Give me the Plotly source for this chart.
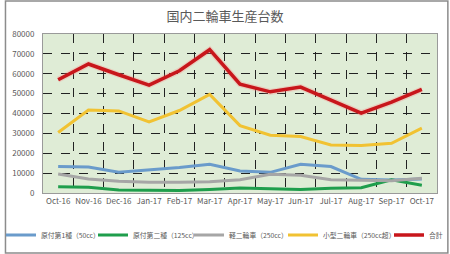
import plotly.graph_objects as go

months = ["Oct-16", "Nov-16", "Dec-16", "Jan-17", "Feb-17", "Mar-17", "Apr-17",
          "May-17", "Jun-17", "Jul-17", "Aug-17", "Sep-17", "Oct-17"]

gentsuki1 = [13300, 13100, 10400, 11600, 12800, 14500, 11100, 10400, 14500, 13300, 6900, 6600, 7100]
gentsuki2 = [3200, 2900, 1500, 1500, 1200, 1800, 2500, 2200, 1800, 2400, 2700, 6600, 3900]
kei = [9600, 7100, 5900, 5400, 5400, 5700, 6700, 9400, 8900, 6700, 6400, 6200, 7400]
kogata = [30400, 41700, 41300, 35800, 41500, 49600, 33900, 29100, 28400, 24200, 23900, 25000, 32600]
total = [57000, 64900, 59500, 54300, 61500, 72100, 54800, 50900, 53300, 46900, 40200, 45700, 52100]

names = ["原付第1種（50cc）", "原付第二種（125cc）", "軽二輪車（250cc）", "小型二輪車（250cc超）", "合計"]
colors = ["#6A9BCB", "#1F9E4C", "#A6A6A6", "#F1C232", "#C8161B"]
series = [gentsuki1, gentsuki2, kei, kogata, total]
legend_ids = ["legend", "legend2", "legend3", "legend4", "legend5"]
legend_x = [1, 93, 189, 283, 389]  # left edge of each legend entry, px

FONT = "Noto Sans CJK JP"
fig = go.Figure()

# soft glow under total line
fig.add_trace(go.Scatter(x=months, y=total, mode="lines",
                         line=dict(color="rgba(255,130,130,0.28)", width=6),
                         showlegend=False, hoverinfo="skip"))

for name, vals, col, lg in zip(names, series, colors, legend_ids):
    fig.add_trace(go.Scatter(x=months, y=vals, mode="lines", name=name, legend=lg,
                             line=dict(color=col, width=3.5 if name == "合計" else 3)))

legend_common = dict(orientation="h", xref="container", xanchor="left",
                     yref="container", y=0.075, yanchor="middle",
                     font=dict(family=FONT, size=6.8, color="#595959"),
                     itemwidth=30, bgcolor="rgba(0,0,0,0)", borderwidth=0)
legends = {lg: dict(legend_common, x=px / 450) for lg, px in zip(legend_ids, legend_x)}

fig.update_layout(
    width=450, height=254,
    margin=dict(l=39, r=12, t=34, b=61),
    paper_bgcolor="white",
    plot_bgcolor="#DFECD6",
    font=dict(family=FONT, color="#595959", size=8),
    title=dict(text="国内二輪車生産台数", x=0.5, xanchor="center", y=0.935, yanchor="middle",
               font=dict(family=FONT, size=13, color="#595959")),
    showlegend=True,
    shapes=[dict(type="rect", xref="paper", yref="paper",
                 x0=-39/399 + 1/399, x1=1 + 11/399, y0=-60/159, y1=1 + 33/159,
                 line=dict(color="#8C8C8C", width=1.5), layer="below")],
    **legends,
)

fig.update_xaxes(
    type="category", range=[-0.5, 12.5], tickson="boundaries", tickangle=0,
    showgrid=True, gridcolor="#222222", griddash="dash", gridwidth=1,
    showline=True, linecolor="#9A9A9A", linewidth=1, mirror=True,
    ticks="", tickfont=dict(size=8, color="#595959"), fixedrange=True,
)
fig.update_yaxes(
    range=[0, 80000], dtick=10000, tickformat="d",
    showgrid=True, gridcolor="#222222", griddash="dash", gridwidth=1,
    showline=True, linecolor="#9A9A9A", linewidth=1, mirror=True,
    zeroline=False, ticks="", tickfont=dict(size=8, color="#595959"),
    ticklabelstandoff=6,
)

fig.write_html("out.html")
